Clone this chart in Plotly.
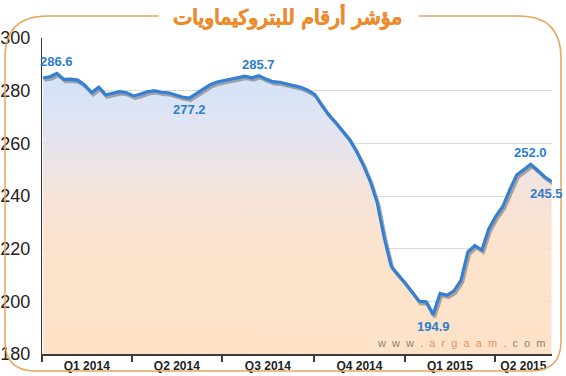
import plotly.graph_objects as go
import pandas as pd

# ---------------- data ----------------
title_text = "مؤشر أرقام للبتروكيماويات"
start_date = "2014-01-02"          # weekly closes
values = [
    284.8, 285.3, 286.6, 284.3, 284.4, 284.0, 282.1, 279.3, 281.3, 278.4,
    279.0, 279.6, 279.2, 278.0, 278.7, 279.6, 280.0, 279.4, 279.2, 278.4,
    277.6, 277.2, 278.8, 280.6, 282.3, 283.3, 283.9, 284.4, 284.9, 285.5,
    284.9, 285.7, 284.4, 283.4, 283.2, 282.5, 282.0, 281.3, 280.2, 278.6,
    274.6, 270.9, 268.0, 264.9, 261.5, 257.0, 251.7, 245.5, 237.3, 224.0,
    213.2, 210.0, 207.0, 203.5, 200.0, 199.8, 194.9, 203.0, 202.3, 204.0,
    208.0, 218.8, 221.2, 219.5, 227.5, 232.3, 236.0, 242.3, 248.0, 250.0,
    252.0, 249.8, 247.3, 245.5,
]
label_idx = [2, 21, 31, 56, 70, 73]
label_above = [True, False, True, False, True, False]
quarter_labels = ["Q1 2014", "Q2 2014", "Q3 2014", "Q4 2014", "Q1 2015", "Q2 2015"]
quarter_starts = ["2014-01-01", "2014-04-01", "2014-07-01",
                  "2014-10-01", "2015-01-01", "2015-04-01"]
y_ticks = [180, 200, 220, 240, 260, 280, 300]

dates = pd.date_range(start_date, periods=len(values), freq="7D")
x_start = pd.Timestamp("2014-01-01")
x_end = dates[-1] + pd.Timedelta(hours=12)
y_min, y_max = 180, 300

# quarter label positions: middle of the visible part of each quarter
qs = [pd.Timestamp(q) for q in quarter_starts]
q_ends = qs[1:] + [x_end]
q_mid = [a + (min(b, x_end) - a) / 2 for a, b in zip(qs, q_ends)]

# ---------------- layout geometry ----------------
W, H = 566, 376
ML, MR, MT, MB = 42, 14, 38, 22
PW, PH = W - ML - MR, H - MT - MB


def px(x):
    return (x - ML) / PW


def py(y):
    return (H - MB - y) / PH


BLUE = "#3580d3"
LABEL_BLUE = "#2d7ccf"
ORANGE = "#ee8b2c"
NARROW = "Liberation Sans Narrow, Arial Narrow, Arial"

fig = go.Figure()

# gradient fill under the line
fig.add_trace(go.Scatter(
    x=dates, y=values, mode="lines", line=dict(width=0),
    fill="tozeroy",
    fillgradient=dict(
        type="vertical", start=y_min, stop=y_max,
        colorscale=[[0.0, "rgba(253,224,195,0.93)"], [0.33, "rgba(252,225,201,0.93)"],
                    [0.5, "rgba(244,225,213,0.93)"], [0.67, "rgba(228,226,238,0.93)"],
                    [0.83, "rgba(212,226,245,0.93)"], [1.0, "rgba(202,221,245,0.93)"]],
    ),
    hoverinfo="skip", showlegend=False, xaxis="x", yaxis="y",
))

# soft drop shadow of the line (same data on slightly shifted hidden axes)
fig.add_trace(go.Scatter(
    x=dates, y=values, mode="lines",
    line=dict(color="rgba(80,80,80,0.45)", width=3.5),
    hoverinfo="skip", showlegend=False, xaxis="x2", yaxis="y2",
))

# main line
fig.add_trace(go.Scatter(
    x=dates, y=values, mode="lines",
    line=dict(color=BLUE, width=3.2),
    showlegend=False, xaxis="x3", yaxis="y3",
))

shift_days = pd.Timedelta(hours=36)
shift_y = 0.8

fig.update_layout(
    width=W, height=H,
    margin=dict(l=ML, r=MR, t=MT, b=MB, pad=0, autoexpand=False),
    paper_bgcolor="white", plot_bgcolor="white",
    xaxis=dict(
        range=[x_start, x_end], type="date", automargin=False,
        tickmode="array", tickvals=q_mid, ticktext=quarter_labels,
        ticks="", showgrid=False,
        tickfont=dict(family=NARROW, size=12, color="#222", weight="bold"),
        showline=True, linecolor="#3a3a3a", linewidth=2,
        minor=dict(tickmode="array", tickvals=qs, ticks="outside", ticklen=6,
                   tickwidth=1.5, tickcolor="#3a3a3a", showgrid=False),
        zeroline=False, fixedrange=True,
    ),
    yaxis=dict(
        range=[y_min, y_max], tickmode="array", tickvals=y_ticks, automargin=False,
        showgrid=True, gridcolor="#dcdcdc", gridwidth=1,
        ticks="", ticklabelstandoff=7,
        tickfont=dict(family=NARROW, size=18, color="#222"),
        showline=True, linecolor="#3a3a3a", linewidth=1,
        zeroline=False, fixedrange=True,
    ),
    xaxis2=dict(overlaying="x", range=[x_start - shift_days, x_end - shift_days],
                type="date", visible=False, fixedrange=True),
    yaxis2=dict(overlaying="y", range=[y_min + shift_y, y_max + shift_y],
                visible=False, fixedrange=True),
    xaxis3=dict(overlaying="x", range=[x_start, x_end], type="date",
                visible=False, fixedrange=True),
    yaxis3=dict(overlaying="y", range=[y_min, y_max], visible=False, fixedrange=True),
)

# value labels
for i, above in zip(label_idx, label_above):
    last = i == len(values) - 1
    fig.add_annotation(
        x=dates[i], y=values[i], xref="x3", yref="y3",
        text=f"<b>{values[i]:.1f}</b>", showarrow=False,
        xanchor="right" if last else "center",
        xshift=13 if last else 0,
        yanchor="bottom" if above else "top",
        yshift=2 if above else -2,
        font=dict(family=NARROW, size=13, color=LABEL_BLUE),
    )

# rounded orange frame, open at the top for the title
L_, R_, T_, B_ = 5, 561, 16, 371
rt, rb = 42, 30
gap_l, gap_r = 159, 419
path = (
    f"M {px(gap_l)},{py(T_)} L {px(L_ + rt)},{py(T_)} "
    f"Q {px(L_)},{py(T_)} {px(L_)},{py(T_ + rt)} "
    f"L {px(L_)},{py(B_ - rb)} "
    f"Q {px(L_)},{py(B_)} {px(L_ + rb)},{py(B_)} "
    f"L {px(R_ - rb)},{py(B_)} "
    f"Q {px(R_)},{py(B_)} {px(R_)},{py(B_ - rb)} "
    f"L {px(R_)},{py(T_ + rt)} "
    f"Q {px(R_)},{py(T_)} {px(R_ - rt)},{py(T_)} "
    f"L {px(gap_r)},{py(T_)}"
)
fig.add_shape(type="path", path=path, xref="paper", yref="paper",
              line=dict(color="#eaa55e", width=1.5), layer="above")

# title
fig.add_annotation(
    text=title_text, xref="paper", yref="paper",
    x=px(W / 2 + 4), y=py(16), xanchor="center", yanchor="middle", showarrow=False,
    font=dict(family="DejaVu Sans, Noto Sans", size=20.5, color=ORANGE,
              shadow=f"0.7px 0 0 {ORANGE}, -0.7px 0 0 {ORANGE}, 0 0.6px 0 {ORANGE}, 0 -0.4px 0 {ORANGE}"),
)

# watermark
sp = "\u00a0"


def spaced(s):
    return (sp * 2).join(list(s))


wm = (f"<span style='color:#8f7f78'>{spaced('www.')}</span>{sp*2}"
      f"<span style='color:#e9906a'>{spaced('argaam')}</span>{sp*2}"
      f"<span style='color:#8f7f78'>{spaced('.com')}</span>")
fig.add_annotation(
    text=wm, xref="paper", yref="paper", x=px(548), y=py(343),
    xanchor="right", yanchor="middle", showarrow=False,
    font=dict(family="Liberation Sans, Arial", size=11),
)

# the page should start at the very top-left corner
fig.write_html(
    "out.html",
    config={"displayModeBar": False},
    post_script="document.body.style.margin='0';document.body.style.overflow='hidden';",
)
